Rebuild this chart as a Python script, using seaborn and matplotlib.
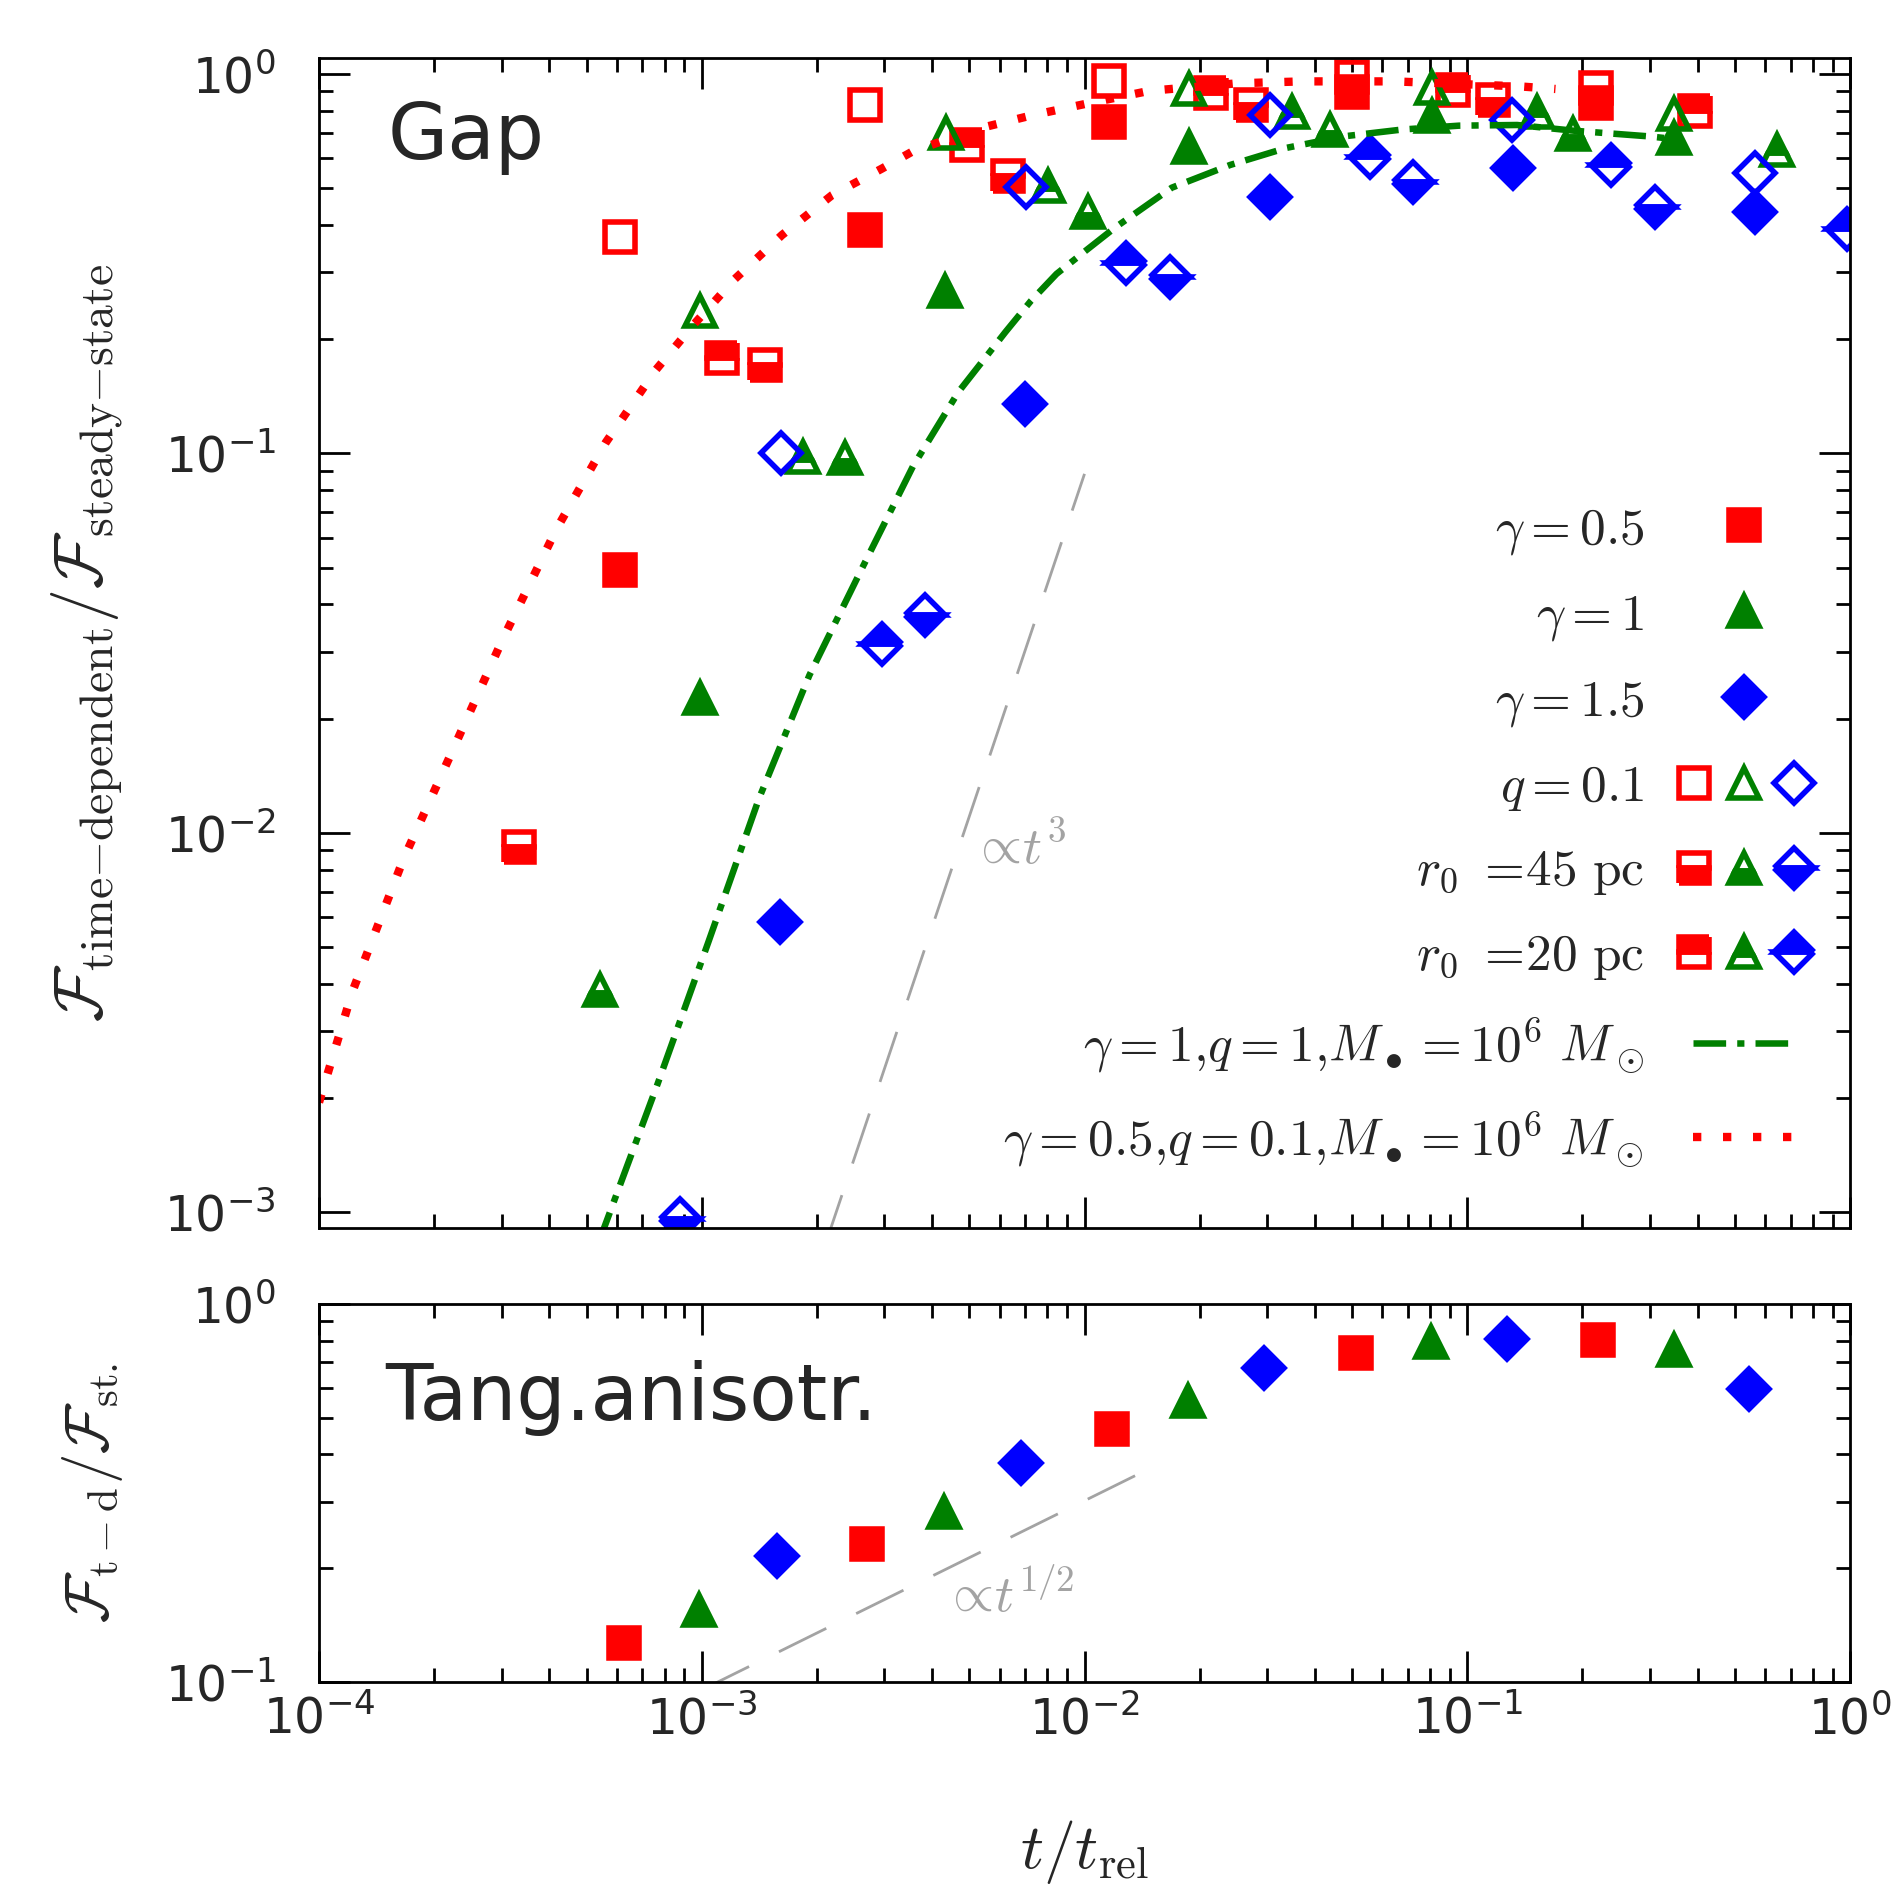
from __future__ import annotations

import matplotlib

matplotlib.use("Agg")
import matplotlib.pyplot as plt
import seaborn as sns
from matplotlib.legend_handler import HandlerTuple
from matplotlib.lines import Line2D
from matplotlib.ticker import LogLocator, NullFormatter

RED = "#ff0000"
GREEN = "#008000"
BLUE = "#0000ff"
GUIDE_GREY = "#a3a3a3"

# ---- top panel ("Gap"): t/t_rel vs F_time-dependent / F_steady-state ----
# gamma = 0.5, red squares
g05_t = [6.13e-4, 2.67e-3, 1.16e-2, 4.99e-2, 2.17e-1]
g05_f = [0.0494, 0.388, 0.746, 0.895, 0.837]
g05_q01_t = [6.13e-4, 2.67e-3, 1.16e-2, 4.99e-2, 2.17e-1]
g05_q01_f = [0.372, 0.828, 0.960, 0.980, 0.916]
g05_r45_t = [3.34e-4, 1.46e-3, 6.32e-3, 2.73e-2, 1.17e-1]
g05_r45_f = [0.0092, 0.171, 0.539, 0.829, 0.851]
g05_r20_t = [1.13e-3, 4.92e-3, 2.14e-2, 9.20e-2, 3.94e-1]
g05_r20_f = [0.178, 0.650, 0.889, 0.904, 0.800]
# gamma = 1, green triangles
g1_t = [9.92e-4, 4.33e-3, 1.88e-2, 8.07e-2, 3.47e-1]
g1_f = [0.0227, 0.268, 0.643, 0.775, 0.677]
g1_q01_t = [9.92e-4, 4.34e-3, 1.87e-2, 8.07e-2, 3.47e-1]
g1_q01_f = [0.237, 0.700, 0.913, 0.916, 0.783]
g1_r45_t = [5.42e-4, 2.37e-3, 1.02e-2, 4.38e-2, 1.89e-1]
g1_r45_f = [0.00386, 0.0973, 0.432, 0.711, 0.695]
g1_r20_t = [1.84e-3, 8.04e-3, 3.48e-2, 1.52e-1, 6.43e-1]
g1_r20_f = [0.0976, 0.505, 0.792, 0.792, 0.628]
# gamma = 1.5, blue diamonds
g15_t = [1.60e-3, 6.97e-3, 3.05e-2, 1.32e-1, 5.65e-1]
g15_f = [0.00581, 0.135, 0.475, 0.564, 0.433]
g15_q01_t = [1.61e-3, 7.02e-3, 3.05e-2, 1.31e-1, 5.65e-1]
g15_q01_f = [0.100, 0.504, 0.780, 0.756, 0.549]
g15_r45_t = [8.77e-4, 3.83e-3, 1.67e-2, 7.22e-2, 3.10e-1]
g15_r45_f = [9.6e-4, 0.0374, 0.292, 0.520, 0.445]
g15_r20_t = [2.95e-3, 1.28e-2, 5.57e-2, 2.38e-1, 9.80e-1]
g15_r20_f = [0.0315, 0.317, 0.602, 0.575, 0.389]

# model curves for M_bh = 1e6 Msun
curve_g1_t = [5.37e-4, 7.64e-4, 1.04e-3, 1.41e-3, 1.91e-3, 2.62e-3, 3.56e-3,
              4.68e-3, 6.22e-3, 7.24e-3, 8.45e-3, 1.00e-2, 1.20e-2, 1.69e-2,
              2.40e-2, 3.37e-2, 4.75e-2, 6.75e-2, 9.51e-2, 1.35e-1, 1.90e-1,
              2.99e-1, 3.47e-1]
curve_g1_f = [8.3e-4, 2.16e-3, 5.15e-3, 1.23e-2, 2.60e-2, 4.97e-2, 9.23e-2,
              0.145, 0.209, 0.252, 0.297, 0.340, 0.393, 0.501,
              0.575, 0.638, 0.684, 0.713, 0.730, 0.733, 0.708,
              0.684, 0.673]
curve_g05_t = [1.00e-4, 1.22e-4, 1.66e-4, 2.24e-4, 3.02e-4, 4.17e-4, 5.62e-4,
               7.59e-4, 9.55e-4, 1.22e-3, 1.62e-3, 2.19e-3, 2.95e-3, 3.55e-3,
               5.25e-3, 7.24e-3, 1.00e-2, 1.48e-2, 2.51e-2, 3.72e-2, 6.46e-2,
               1.38e-1, 1.70e-1]
curve_g05_f = [1.95e-3, 3.80e-3, 8.51e-3, 1.66e-2, 3.24e-2, 6.31e-2, 0.107,
               0.166, 0.219, 0.288, 0.376, 0.479, 0.562, 0.624,
               0.716, 0.776, 0.832, 0.902, 0.944, 0.955, 0.955,
               0.926, 0.912]

# power-law guides
t3_t = [2.10e-3, 1.00e-2]
t3_f = [8.2e-4, 0.0883]
thalf_t = [1.00e-3, 1.545e-2]
thalf_f = [0.0953, 0.375]

# ---- bottom panel (tangential anisotropy) ----
tang_g05_t = [6.27e-4, 2.71e-3, 1.18e-2, 5.12e-2, 2.20e-1]
tang_g05_f = [0.127, 0.232, 0.466, 0.740, 0.803]
tang_g1_t = [9.85e-4, 4.29e-3, 1.86e-2, 8.04e-2, 3.46e-1]
tang_g1_f = [0.155, 0.282, 0.552, 0.795, 0.756]
tang_g15_t = [1.57e-3, 6.84e-3, 2.94e-2, 1.27e-1, 5.43e-1]
tang_g15_f = [0.215, 0.380, 0.676, 0.806, 0.597]

MEW = 4.0
SIZES = {"s": 21.5, "^": 21, "D": 20}
LEG_FS = 37


def marker_kws(color, marker, fill):
    kws = dict(color=color, marker=marker, linestyle="none", markersize=SIZES[marker],
               markeredgewidth=MEW, markeredgecolor=color)
    if fill == "none":
        kws.update(markerfacecolor="none", fillstyle="none")
    else:
        kws.update(markerfacecolor=color, fillstyle=fill, markerfacecoloralt="none")
    return kws


def draw_points(ax, t, f, color, marker, fill="full"):
    sns.lineplot(x=t, y=f, ax=ax, estimator=None, errorbar=None, sort=False,
                 legend=False, **marker_kws(color, marker, fill))


def draw_curve(ax, t, f, color, lw, dashes):
    sns.lineplot(x=t, y=f, ax=ax, color=color, linewidth=lw, linestyle=(0, dashes),
                 estimator=None, errorbar=None, sort=False, legend=False)


def style_axis(ax):
    ax.tick_params(which="both", direction="in", top=True, right=True,
                   width=2, color="black")
    ax.tick_params(which="major", length=22, labelsize=35)
    ax.tick_params(which="minor", length=10)
    ax.tick_params(axis="y", which="major", pad=31)
    ax.tick_params(axis="x", which="major", pad=10)
    for axis in (ax.xaxis, ax.yaxis):
        axis.set_major_locator(LogLocator(base=10, numticks=20))
        axis.set_minor_locator(LogLocator(base=10, subs=range(2, 10), numticks=50))
        axis.set_minor_formatter(NullFormatter())
    for spine in ax.spines.values():
        spine.set_linewidth(2)
        spine.set_color("black")


def main() -> None:
    sns.set_style("ticks")
    plt.rcParams["font.family"] = ["DejaVu Sans"]
    plt.rcParams["mathtext.fontset"] = "cm"

    fig = plt.figure(figsize=(19, 18.98), dpi=100)
    ax_gap = fig.add_axes([0.1679, 0.3530, 0.8058, 0.6164])
    ax_tang = fig.add_axes([0.1679, 0.1138, 0.8058, 0.1992])
    for ax in (ax_gap, ax_tang):
        ax.set_xscale("log")
        ax.set_yscale("log")

    # top panel markers
    draw_points(ax_gap, g05_t, g05_f, RED, "s")
    draw_points(ax_gap, g05_q01_t, g05_q01_f, RED, "s", "none")
    draw_points(ax_gap, g05_r45_t, g05_r45_f, RED, "s", "bottom")
    draw_points(ax_gap, g05_r20_t, g05_r20_f, RED, "s", "top")
    draw_points(ax_gap, g1_t, g1_f, GREEN, "^")
    draw_points(ax_gap, g1_q01_t, g1_q01_f, GREEN, "^", "none")
    draw_points(ax_gap, g1_r45_t, g1_r45_f, GREEN, "^", "bottom")
    draw_points(ax_gap, g1_r20_t, g1_r20_f, GREEN, "^", "top")
    draw_points(ax_gap, g15_t, g15_f, BLUE, "D")
    draw_points(ax_gap, g15_q01_t, g15_q01_f, BLUE, "D", "none")
    draw_points(ax_gap, g15_r45_t, g15_r45_f, BLUE, "D", "bottom")
    draw_points(ax_gap, g15_r20_t, g15_r20_f, BLUE, "D", "top")

    dashdot = (5.0, 1.7, 1.1, 1.7)
    dotted = (1.0, 2.6)
    guide_dash = (19, 12)
    draw_curve(ax_gap, curve_g1_t, curve_g1_f, GREEN, 4.7, dashdot)
    draw_curve(ax_gap, curve_g05_t, curve_g05_f, RED, 6.0, dotted)
    draw_curve(ax_gap, t3_t, t3_f, GUIDE_GREY, 2.0, guide_dash)

    ax_gap.text(0.426, 0.312, r"$\propto\!t^3$", transform=ax_gap.transAxes,
                fontsize=38, color=GUIDE_GREY, ha="left", va="baseline")
    ax_gap.text(0.045, 0.914, "Gap", transform=ax_gap.transAxes,
                fontsize=56, ha="left", va="baseline")

    # legend
    def handle(color, marker, fill="full"):
        return Line2D([], [], **marker_kws(color, marker, fill))

    handles = [
        handle(RED, "s"),
        handle(GREEN, "^"),
        handle(BLUE, "D"),
        (handle(RED, "s", "none"), handle(GREEN, "^", "none"), handle(BLUE, "D", "none")),
        (handle(RED, "s", "bottom"), handle(GREEN, "^", "bottom"), handle(BLUE, "D", "bottom")),
        (handle(RED, "s", "top"), handle(GREEN, "^", "top"), handle(BLUE, "D", "top")),
        Line2D([], [], color=GREEN, lw=4.7, linestyle=(0, dashdot)),
        Line2D([], [], color=RED, lw=6.0, linestyle=(0, dotted)),
    ]
    labels = [
        r"$\gamma=0.5$",
        r"$\gamma=1$",
        r"$\gamma=1.5$",
        r"$q=0.1$",
        r"$r_0\ =\!45\ \mathrm{pc}$",
        r"$r_0\ =\!20\ \mathrm{pc}$",
        r"$\gamma=1{,}q=1{,}M_\bullet=10^6\ M_\odot$",
        r"$\gamma=0.5{,}q=0.1{,}M_\bullet=10^6\ M_\odot$",
    ]
    ax_gap.legend(handles, labels, handler_map={tuple: HandlerTuple(ndivide=None, pad=0.93)},
                  markerfirst=False, frameon=False, loc="lower right",
                  bbox_to_anchor=(0.964, 0.05), fontsize=LEG_FS, handlelength=1.98,
                  handletextpad=0.95, labelspacing=0.65, borderpad=0, borderaxespad=0)

    # bottom panel
    draw_points(ax_tang, tang_g05_t, tang_g05_f, RED, "s")
    draw_points(ax_tang, tang_g1_t, tang_g1_f, GREEN, "^")
    draw_points(ax_tang, tang_g15_t, tang_g15_f, BLUE, "D")
    draw_curve(ax_tang, thalf_t, thalf_f, GUIDE_GREY, 2.0, guide_dash)
    ax_tang.text(0.4075, 0.185, r"$\propto\!t^{1/2}$", transform=ax_tang.transAxes,
                 fontsize=38, color=GUIDE_GREY, ha="left", va="baseline")
    ax_tang.text(0.043, 0.693, "Tang.anisotr.", transform=ax_tang.transAxes,
                 fontsize=56, ha="left", va="baseline")

    for ax in (ax_gap, ax_tang):
        style_axis(ax)
        ax.set_xlim(1e-4, 1.0)
    ax_gap.set_ylim(9.1e-4, 1.10)
    ax_tang.set_ylim(0.1, 1.0)
    ax_gap.tick_params(axis="x", labelbottom=False)

    ax_gap.set_xlabel("")
    ax_gap.set_ylabel(r"$\mathcal{F}_{\rm time{-}dependent}/\mathcal{F}_{\rm steady{-}state}$",
                      fontsize=49)
    ax_gap.yaxis.set_label_coords(-0.127, 0.5)
    ax_tang.set_ylabel(r"$\mathcal{F}_{\rm t-d}/\mathcal{F}_{\rm st.}$", fontsize=44)
    ax_tang.yaxis.set_label_coords(-0.127, 0.5)
    ax_tang.set_xlabel(r"$t/t_{\rm rel}$", fontsize=46)
    ax_tang.xaxis.set_label_coords(0.5, -0.36)

    fig.savefig("out.png", dpi=100)
    plt.close(fig)


if __name__ == "__main__":
    main()
